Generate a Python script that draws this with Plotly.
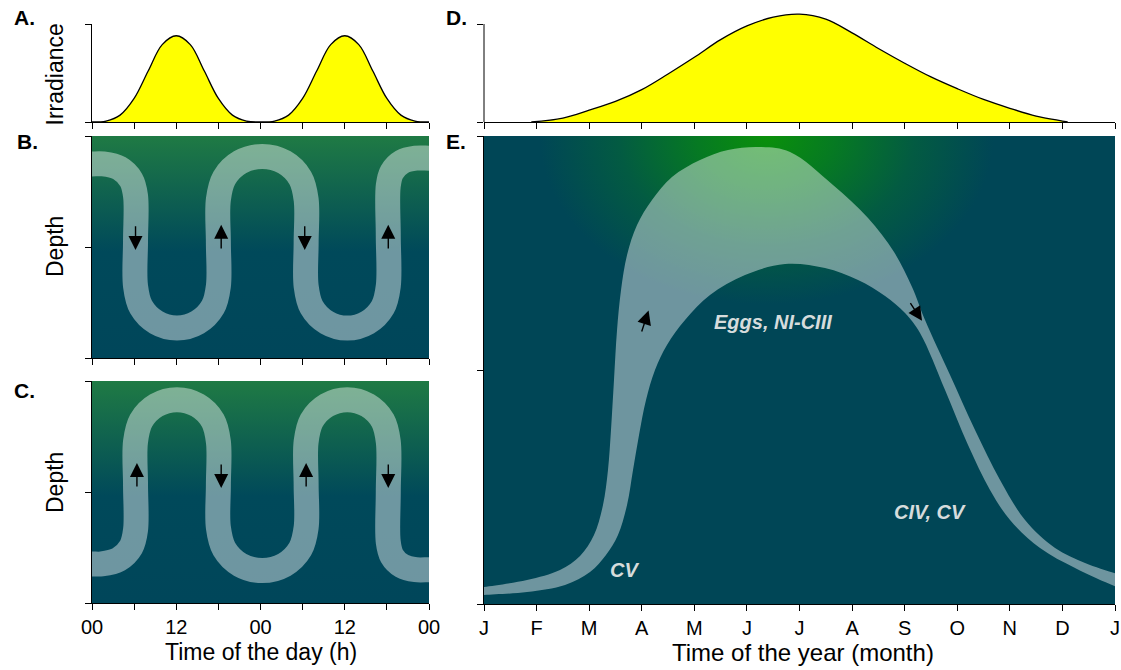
import base64
import plotly.graph_objects as go

W, H = 1121, 670
FONT = "Liberation Sans"

# ---- Diel light cycle (relative irradiance), two days sampled every 2 h ----
diel_hours = list(range(0, 49, 2))
diel_irradiance = [0, 0.01, 0.07, 0.24, 0.52, 0.79, 0.88, 0.79, 0.52, 0.24, 0.07, 0.01,
                   0, 0.01, 0.07, 0.24, 0.52, 0.79, 0.88, 0.79, 0.52, 0.24, 0.07, 0.01, 0]

# ---- Normal DVM (panel B): centre line of the population band, depth in % ----
b_hours = [-1, 0, 1.6, 3.9, 5.58, 6.2, 6.2, 6.2,
           6.99, 9.15, 12.1, 15.05, 17.21, 18.0, 18.0, 18.0,
           18.84, 21.1, 24.25, 27.4, 29.66, 30.5, 30.5, 30.5,
           31.28, 33.43, 36.35, 39.27, 41.42, 42.2, 42.2, 42.2,
           42.72, 44.15, 46.1, 48, 49]
b_depth = [12.6, 12.6, 12.6, 14.5, 19.8, 27, 47, 67.6,
           77.05, 83.97, 86.5, 83.97, 77.05, 67.6, 48, 28.6,
           18.9, 11.8, 9.2, 11.8, 18.9, 28.6, 48, 67.6,
           77.05, 83.97, 86.5, 83.97, 77.05, 67.6, 45, 22.4,
           16.2, 11.66, 10, 10, 10]

# ---- Reverse DVM (panel C) ----
c_hours = [-1, 0, 1.4, 3.8, 5.56, 6.2, 6.2, 6.2,
           6.99, 9.15, 12.1, 15.05, 17.21, 18.0, 18.0, 18.0,
           18.84, 21.1, 24.25, 27.4, 29.66, 30.5, 30.5, 30.5,
           31.28, 33.43, 36.35, 39.27, 41.42, 42.2, 42.2, 42.2,
           42.72, 44.15, 46.1, 48, 49]
c_depth = [82.4, 82.4, 82.4, 80.35, 74.75, 67.1, 47, 27.3,
           17.85, 10.93, 8.4, 10.93, 17.85, 27.3, 47, 66,
           75.7, 82.8, 85.4, 82.8, 75.7, 66, 47, 27.3,
           17.85, 10.93, 8.4, 10.93, 17.85, 27.3, 50, 72.6,
           78.8, 83.3, 85, 85, 85]

# ---- Annual light cycle (panel D), month index 0 = 1 January ----
year_months = [0.9, 1.5, 2, 2.5, 3, 3.5, 4, 4.5, 5, 5.5, 6, 6.5,
               7, 7.5, 8, 8.5, 9, 9.5, 10, 10.5, 11, 11.1]
year_irradiance = [0, 0.04, 0.12, 0.21, 0.33, 0.49, 0.66, 0.84, 0.98, 1.07, 1.10, 1.05,
                   0.91, 0.75, 0.60, 0.46, 0.34, 0.23, 0.14, 0.06, 0.01, 0]

# ---- Seasonal vertical migration (panel E): shallow and deep edges of the band ----
e_upper_month = [-0.19, 0, 0.818, 1.445, 1.826, 2.092, 2.263, 2.358, 2.415, 2.472, 2.53,
                 2.606, 2.72, 2.91, 3.195, 3.575, 4.108, 4.64, 5.249, 5.82, 6.637, 7.303,
                 7.798, 8.14, 8.387, 8.863, 9.338, 9.814, 10.289, 10.86, 11.43, 12.039,
                 12.229]
e_upper_depth = [96.58, 96.37, 94.87, 92.74, 89.74, 85.26, 78.85, 71.37, 62.82, 52.14, 41.45,
                 32.91, 25.43, 19.02, 13.68, 8.76, 5.13, 2.99, 2.35, 3.42, 10.47, 17.52,
                 24.79, 32.26, 39.32, 51.07, 62.82, 73.5, 82.05, 88.03, 91.24, 93.59,
                 94.23]
e_lower_month = [-0.19, 0, 0.818, 1.541, 2.016, 2.32, 2.548, 2.72, 2.834, 2.948, 3.081,
                 3.252, 3.48, 3.823, 4.298, 4.964, 5.725, 6.485, 7.113, 7.627, 8.007,
                 8.292, 8.768, 9.205, 9.623, 10.004, 10.574, 11.24, 12.039, 12.229]
e_lower_depth = [98.29, 98.08, 97.44, 95.94, 93.16, 89.53, 85.26, 78.85, 71.37, 63.89, 56.41,
                 50.0, 44.66, 39.32, 33.97, 29.7, 27.35, 28.21, 30.77, 34.19, 37.82,
                 42.09, 54.27, 66.03, 75.64, 82.05, 88.03, 92.31, 96.37, 97.01]

day_ticks = list(range(0, 49, 6))
day_ticktext = ["00", "", "12", "", "00", "", "12", "", "00"]
month_ticks = list(range(0, 13))
month_ticktext = ["J", "F", "M", "A", "M", "J", "J", "A", "S", "O", "N", "D", "J"]

# ---- Panel frames in pixels (left, right) / (top, bottom) ----
LX = (92, 429)
RX = (484, 1115)
A_Y = (24, 122)
B_Y = (136, 358)
C_Y = (381, 603)
D_Y = (12, 122)
E_Y = (136, 604)


def xd(p):
    return [p[0] / W, p[1] / W]


def yd(p):
    return [1 - p[1] / H, 1 - p[0] / H]


band = "rgba(255,255,255,0.43)"
fig = go.Figure()

# A: diel irradiance
fig.add_trace(go.Scatter(x=diel_hours, y=diel_irradiance, mode="lines", line_shape="spline",
                         line=dict(color="black", width=1.3), fill="tozeroy",
                         fillcolor="#ffff00", xaxis="x", yaxis="y", hoverinfo="skip"))
# B: normal DVM
fig.add_trace(go.Scatter(x=b_hours, y=b_depth, mode="lines",
                         line=dict(color=band, width=25, shape="spline", smoothing=1.0),
                         xaxis="x2", yaxis="y2", hoverinfo="skip"))
# C: reverse DVM
fig.add_trace(go.Scatter(x=c_hours, y=c_depth, mode="lines",
                         line=dict(color=band, width=25, shape="spline", smoothing=1.0),
                         xaxis="x3", yaxis="y3", hoverinfo="skip"))
# D: annual irradiance
fig.add_trace(go.Scatter(x=year_months, y=year_irradiance, mode="lines", line_shape="spline",
                         line=dict(color="black", width=1.3), fill="tozeroy",
                         fillcolor="#ffff00", xaxis="x4", yaxis="y4", hoverinfo="skip"))
# E: seasonal band between shallow and deep edges
fig.add_trace(go.Scatter(x=e_upper_month, y=e_upper_depth, mode="lines",
                         line=dict(width=0, shape="spline", smoothing=1.0),
                         xaxis="x5", yaxis="y5", hoverinfo="skip"))
fig.add_trace(go.Scatter(x=e_lower_month, y=e_lower_depth, mode="lines",
                         line=dict(width=0, shape="spline", smoothing=1.0), fill="tonexty",
                         fillcolor=band, xaxis="x5", yaxis="y5", hoverinfo="skip"))

axis_style = dict(showline=True, linecolor="black", linewidth=1, ticks="outside",
                  ticklen=6, tickwidth=1, tickcolor="black", showgrid=False,
                  zeroline=False, fixedrange=True, automargin=False,
                  tickfont=dict(family=FONT, size=20, color="black"))

fig.update_layout(
    width=W, height=H, margin=dict(l=0, r=0, t=0, b=0, autoexpand=False),
    paper_bgcolor="white", plot_bgcolor="rgba(0,0,0,0)", showlegend=False,
    xaxis=dict(axis_style, domain=xd(LX), range=[0, 48], tickvals=day_ticks,
               showticklabels=False, anchor="y"),
    yaxis=dict(axis_style, domain=yd(A_Y), range=[0, 1], tickvals=[0, 1],
               showticklabels=False, anchor="x"),
    xaxis2=dict(axis_style, domain=xd(LX), range=[0, 48], tickvals=day_ticks,
                showticklabels=False, anchor="y2"),
    yaxis2=dict(axis_style, domain=yd(B_Y), range=[100, 0], tickvals=[0, 50, 100],
                showticklabels=False, anchor="x2"),
    xaxis3=dict(axis_style, domain=xd(LX), range=[0, 48], tickvals=day_ticks,
                ticktext=day_ticktext, anchor="y3"),
    yaxis3=dict(axis_style, domain=yd(C_Y), range=[100, 0], tickvals=[0, 50, 100],
                showticklabels=False, anchor="x3"),
    xaxis4=dict(axis_style, domain=xd(RX), range=[0, 12], tickvals=month_ticks,
                showticklabels=False, anchor="y4"),
    yaxis4=dict(axis_style, domain=yd(D_Y), range=[0, (D_Y[1] - D_Y[0]) / (A_Y[1] - A_Y[0])],
                tickvals=[0, 1], showticklabels=False, showline=False, anchor="x4"),
    xaxis5=dict(axis_style, domain=xd(RX), range=[0, 12], tickvals=month_ticks,
                ticktext=month_ticktext, anchor="y5"),
    yaxis5=dict(axis_style, domain=yd(E_Y), range=[100, 0], tickvals=[0, 50, 100],
                showticklabels=False, anchor="x5"),
)

# Left axis line of panel D stops at the top tick; the curve rises above it
fig.add_shape(type="line", xref="paper", yref="paper",
              x0=RX[0] / W, x1=RX[0] / W, y0=1 - A_Y[1] / H, y1=1 - A_Y[0] / H,
              line=dict(color="black", width=1))


def svg_uri(svg):
    return "data:image/svg+xml;base64," + base64.b64encode(svg.encode()).decode()


linear_bg = svg_uri(
    "<svg xmlns='http://www.w3.org/2000/svg' width='200' height='200' viewBox='0 0 200 200' "
    "preserveAspectRatio='none'><defs><linearGradient id='g' x1='0' y1='0' x2='0' y2='1'>"
    "<stop offset='0' stop-color='#1f7a44'/><stop offset='0.52' stop-color='#00495a'/>"
    "<stop offset='1' stop-color='#00465a'/></linearGradient></defs>"
    "<rect width='200' height='200' fill='url(#g)'/></svg>")
radial_bg = svg_uri(
    "<svg xmlns='http://www.w3.org/2000/svg' width='200' height='200' viewBox='0 0 200 200' "
    "preserveAspectRatio='none'><defs><radialGradient id='r' cx='0.448' cy='0' r='0.36' "
    "fx='0.448' fy='0'><stop offset='0' stop-color='#0a900a'/>"
    "<stop offset='0.3' stop-color='#067a22'/><stop offset='0.65' stop-color='#035b42'/>"
    "<stop offset='1' stop-color='#004656'/></radialGradient></defs>"
    "<rect width='200' height='200' fill='#004656'/>"
    "<rect width='200' height='200' fill='url(#r)'/></svg>")

images = []
for src, px, py in [(linear_bg, LX, B_Y), (linear_bg, LX, C_Y), (radial_bg, RX, E_Y)]:
    images.append(dict(source=src, xref="paper", yref="paper", x=px[0] / W, y=1 - py[0] / H,
                       sizex=(px[1] - px[0]) / W, sizey=(py[1] - py[0]) / H,
                       xanchor="left", yanchor="top", sizing="stretch", layer="below"))
fig.update_layout(images=images)

ann = []
# Panel letters
for txt, px, py in [("A.", 12, 17.5), ("B.", 15, 142), ("C.", 12, 390),
                    ("D.", 444, 17.5), ("E.", 444, 142)]:
    ann.append(dict(text="<b>%s</b>" % txt, xref="paper", yref="paper", x=px / W, y=1 - py / H,
                    xanchor="left", yanchor="middle", showarrow=False,
                    font=dict(family=FONT, size=21, color="black")))
# Axis titles
for txt, px, py, ang, size in [("Irradiance", 55, 74.5, -90, 23), ("Depth", 55, 247, -90, 23),
                               ("Depth", 55, 483, -90, 23),
                               ("Time of the day (h)", 260.5, 652, 0, 23),
                               ("Time of the year (month)", 803, 652, 0, 24)]:
    ann.append(dict(text=txt, xref="paper", yref="paper", x=px / W, y=1 - py / H,
                    xanchor="center", yanchor="middle", showarrow=False, textangle=ang,
                    font=dict(family=FONT, size=size, color="black")))

# Migration direction arrows (head, tail) in data units
arrow_sets = [
    ("x2", "y2", [((6.2, 51.4), (6.2, 40)), ((18.4, 40), (18.4, 51.4)),
                  ((30.3, 51.4), (30.3, 40)), ((42.2, 40), (42.2, 51.4))]),
    ("x3", "y3", [((6.4, 36.9), (6.4, 48.2)), ((18.4, 48.2), (18.4, 36.9)),
                  ((30.5, 36.9), (30.5, 48.2)), ((42.2, 48.2), (42.2, 36.9))]),
    ("x5", "y5", [((3.13, 37.3), (2.99, 42.1)), ((8.33, 39.5), (8.09, 35.4))]),
]
for xr, yr, arrows in arrow_sets:
    for head, tail in arrows:
        ann.append(dict(text="", x=head[0], y=head[1], ax=tail[0], ay=tail[1],
                        xref=xr, yref=yr, axref=xr, ayref=yr, showarrow=True,
                        arrowhead=2, arrowsize=2.0, arrowwidth=1.4, arrowcolor="black"))

# Life-stage labels
for txt, m, d in [("Eggs, NI-CIII", 5.5, 39.7), ("CV", 2.68, 92.7), ("CIV, CV", 8.48, 80.3)]:
    ann.append(dict(text="<b><i>%s</i></b>" % txt, x=m, y=d, xref="x5", yref="y5",
                    showarrow=False, font=dict(family=FONT, size=20, color="#d6dcdc")))

fig.update_layout(annotations=ann)
fig.write_html("out.html")
